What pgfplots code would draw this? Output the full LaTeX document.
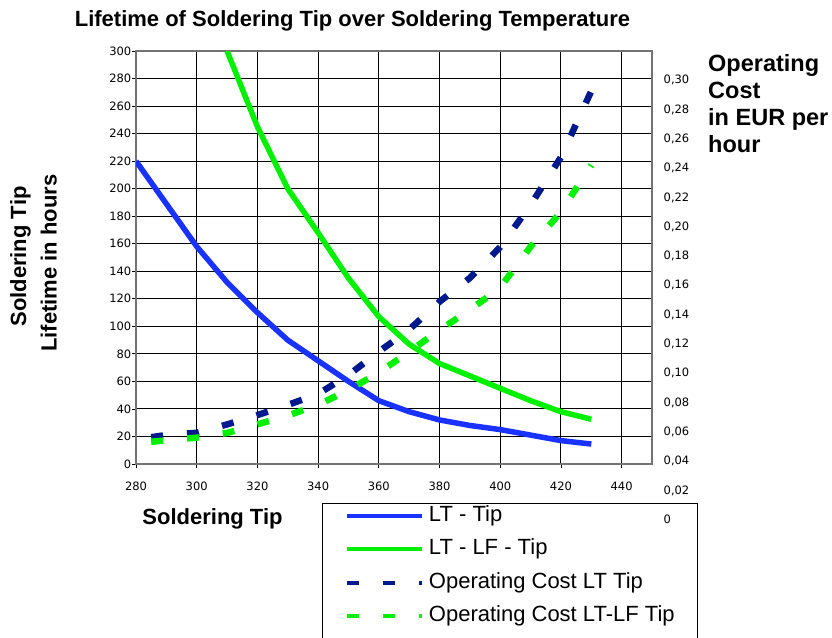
\documentclass[border=0pt]{standalone}
\usepackage{fontspec}
\setmainfont{Liberation Sans}
\newfontfamily\tickfont{DejaVu Sans}
\usepackage{pgfplots}
\pgfplotsset{compat=1.18}
\definecolor{ltblue}{HTML}{1932FF}
\definecolor{lfgreen}{HTML}{00F000}
\definecolor{navy}{HTML}{00198C}
\begin{document}
\begin{tikzpicture}
\useasboundingbox (0,0) rectangle (832pt,-637pt);
\clip (0,0) rectangle (832pt,-637pt);
\begin{axis}[
  at={(136pt,-464pt)}, anchor=south west,
  scale only axis, width=516pt, height=413pt,
  xmin=280, xmax=450, ymin=0, ymax=300,
  xtick={280,300,...,440}, ytick={0,20,...,300},
  tick pos=left,
  tick align=outside, major tick length=4pt,
  grid=major, major grid style={black, line width=0.9pt},
  axis line style={black!55, line width=1.2pt},
  tick style={black, line width=0.8pt},
  ticklabel style={font=\tickfont\fontsize{11.5}{12}\selectfont, inner sep=0pt},
  /pgf/number format/assume math mode=true,
  xticklabel style={anchor=north, yshift=-14pt},
  yticklabel style={anchor=east, xshift=-0.5pt},
  legend style={
    at={(0.3605,-0.0944)}, anchor=north west,
    draw=black, line width=0.8pt, fill=white,
    inner xsep=23pt, inner ysep=2pt,
    font=\fontsize{22}{22}\selectfont,
    row sep=12.5pt,
    nodes={inner xsep=0pt, inner ysep=0pt, text height=16pt, text depth=5pt},
    /tikz/every odd column/.append style={column sep=4.5pt},
  },
  legend cell align=left,
  legend image code/.code={\draw[#1, line width=4pt] (0pt,0pt) -- (75pt,0pt);},
]
\addplot[ltblue, line width=5.5pt, line join=round] coordinates {
(280,220) (290,189) (300,158) (310,132) (320,110) (330,90) (340,75) (350,60)
(360,46) (370,38) (380,32) (390,28) (400,25) (410,21) (420,17) (430,14.5)};
\addlegendentry{LT - Tip}
\addplot[lfgreen, line width=5.5pt, line join=round] coordinates {
(310,300) (320,245) (330,200) (340,168) (350,135) (360,107) (370,87) (380,73)
(390,64) (400,55) (410,46) (420,38) (430,32.5)};
\addlegendentry{LT - LF - Tip}
\addlegendimage{navy, dash pattern=on 12pt off 24pt}
\addlegendentry{Operating Cost LT Tip}
\addlegendimage{lfgreen, dash pattern=on 12pt off 24pt}
\addlegendentry{Operating Cost LT-LF Tip}
\addlegendimage{empty legend}
\addlegendentry{}
\end{axis}
\begin{axis}[
  at={(136pt,-51pt)}, anchor=north west,
  scale only axis, width=516pt, height=468.3pt,
  xmin=280, xmax=450, ymin=0, ymax=0.3194,
  axis x line=none,
  axis y line*=right,
  y axis line style={draw=none},
  ytick={0,0.02,0.04,0.06,0.08,0.10,0.12,0.14,0.16,0.18,0.20,0.22,0.24,0.26,0.28,0.30},
  yticklabels={0,{0,02},{0,04},{0,06},{0,08},{0,10},{0,12},{0,14},{0,16},{0,18},{0,20},{0,22},{0,24},{0,26},{0,28},{0,30}},
  major tick length=0pt, ytick style={draw=none},
  yticklabel style={font=\tickfont\fontsize{11.5}{12}\selectfont, anchor=west, inner sep=0pt, xshift=11.5pt, text depth=0pt},
]
\addplot[navy, line width=6.5pt, dash pattern=on 12pt off 24pt] coordinates {
(285,0.056) (290,0.0575) (300,0.059) (310,0.0647) (320,0.0711) (330,0.078)
(340,0.0855) (350,0.0984) (360,0.1143) (370,0.1294) (380,0.1484) (390,0.1646)
(400,0.1857) (410,0.2144) (420,0.247) (430,0.2921)};
\addplot[lfgreen, line width=6.5pt, dash pattern=on 12pt off 24pt] coordinates {
(285,0.0529) (300,0.0557) (310,0.0589) (320,0.0647) (330,0.0708) (340,0.078)
(350,0.0882) (360,0.1) (370,0.1143) (380,0.1291) (390,0.1428) (400,0.1581)
(410,0.186) (420,0.2096) (430,0.2416)};
\end{axis}
\node[font=\fontsize{22}{26}\selectfont\bfseries, anchor=base, inner sep=0pt] at (352.5pt,-26pt) {Lifetime of Soldering Tip over Soldering Temperature};
\node[font=\fontsize{22}{26}\selectfont\bfseries, anchor=base, inner sep=0pt, rotate=90] at (26pt,-256.5pt) {Soldering Tip};
\node[font=\fontsize{22}{26}\selectfont\bfseries, anchor=base, inner sep=0pt, rotate=90] at (56.7pt,-263pt) {Lifetime in hours};
\node[font=\fontsize{22}{26}\selectfont\bfseries, anchor=base, inner sep=0pt] at (212.5pt,-524pt) {Soldering Tip};
\node[font=\fontsize{23.5}{27}\selectfont\bfseries, anchor=base west, inner sep=0pt] at (708pt,-71.7pt) {Operating};
\node[font=\fontsize{23.5}{27}\selectfont\bfseries, anchor=base west, inner sep=0pt] at (708pt,-98.7pt) {Cost};
\node[font=\fontsize{23.5}{27}\selectfont\bfseries, anchor=base west, inner sep=0pt] at (708pt,-125.7pt) {in EUR per};
\node[font=\fontsize{23.5}{27}\selectfont\bfseries, anchor=base west, inner sep=0pt] at (708pt,-152.7pt) {hour};
\end{tikzpicture}
\end{document}
